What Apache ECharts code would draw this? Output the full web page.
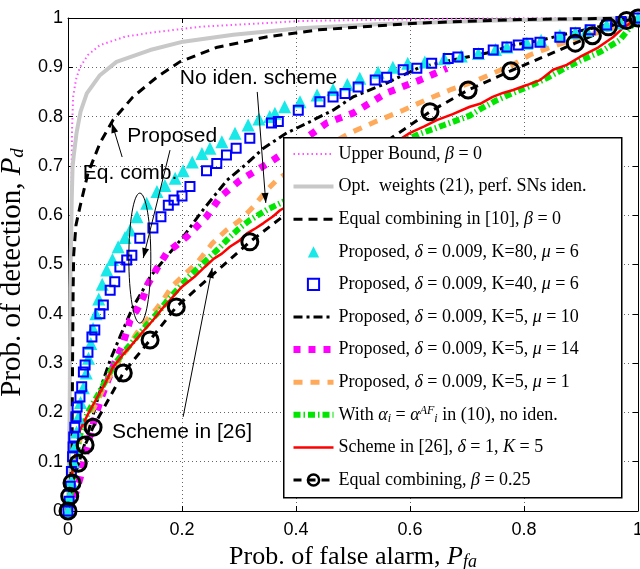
<!DOCTYPE html>
<html>
<head>
<meta charset="utf-8">
<script src="https://cdn.jsdelivr.net/npm/echarts@6/dist/echarts.min.js"></script>
<style>
  html, body { margin: 0; padding: 0; background: #fff; }
  #chart { width: 640px; height: 569px; }
</style>
</head>
<body>
<div id="chart"></div>
<script>
// ROC curves: probability of detection vs probability of false alarm, as [Pfa, Pd]
const upperBound = [[0,0],[0.004,0.4],[0.006,0.65],[0.007,0.77],[0.009,0.84],[0.014,0.875],[0.021,0.9],[0.035,0.925],[0.056,0.945],[0.1,0.962],[0.144,0.97],[0.23,0.982],[0.41,0.994],[0.7,0.999],[1,1]];
const optWeights = [[0,0],[0.003,0.2],[0.004,0.45],[0.0065,0.63],[0.008,0.698],[0.01,0.72],[0.015,0.767],[0.022,0.81],[0.033,0.847],[0.056,0.884],[0.085,0.911],[0.144,0.935],[0.202,0.952],[0.29,0.966],[0.407,0.979],[0.55,0.988],[0.75,0.995],[1,1]];
const equalComb10 = [[0,0],[0.007,0.1],[0.008,0.3],[0.009,0.45],[0.01,0.52],[0.014,0.58],[0.021,0.617],[0.035,0.685],[0.056,0.746],[0.079,0.793],[0.114,0.84],[0.156,0.88],[0.196,0.911],[0.26,0.94],[0.35,0.962],[0.44,0.976],[0.62,0.99],[0.8,0.997],[1,1]];
const propK80 = [[0,0],[0.003,0.03],[0.006,0.06],[0.009,0.1],[0.012,0.13],[0.015,0.16],[0.018,0.19],[0.022,0.22],[0.027,0.25],[0.032,0.28],[0.036,0.31],[0.04,0.34],[0.044,0.37],[0.049,0.4],[0.054,0.43],[0.06,0.46],[0.068,0.489],[0.078,0.51],[0.088,0.536],[0.1,0.555],[0.109,0.57],[0.121,0.597],[0.138,0.624],[0.156,0.648],[0.17,0.66],[0.188,0.675],[0.202,0.69],[0.218,0.708],[0.235,0.725],[0.249,0.736],[0.27,0.749],[0.293,0.766],[0.316,0.783],[0.335,0.795],[0.354,0.8],[0.363,0.807],[0.38,0.82],[0.407,0.83],[0.437,0.844],[0.465,0.855],[0.49,0.865],[0.512,0.878],[0.544,0.89],[0.57,0.9],[0.596,0.908],[0.626,0.911],[0.66,0.918],[0.69,0.923],[0.72,0.928],[0.75,0.936],[0.77,0.941],[0.805,0.949],[0.83,0.955],[0.863,0.965],[0.89,0.97],[0.91,0.975],[0.945,0.986],[0.97,0.99],[1,1]];
const propK40 = [[0,0],[0.002,0.02],[0.004,0.05],[0.006,0.08],[0.008,0.11],[0.009,0.13],[0.01,0.15],[0.012,0.17],[0.014,0.191],[0.016,0.211],[0.021,0.231],[0.024,0.252],[0.027,0.282],[0.03,0.296],[0.035,0.322],[0.042,0.353],[0.047,0.367],[0.056,0.4],[0.062,0.418],[0.074,0.448],[0.082,0.465],[0.091,0.495],[0.103,0.509],[0.112,0.519],[0.126,0.553],[0.149,0.574],[0.163,0.597],[0.176,0.62],[0.186,0.631],[0.2,0.639],[0.214,0.658],[0.243,0.69],[0.261,0.705],[0.278,0.722],[0.295,0.736],[0.319,0.756],[0.357,0.787],[0.369,0.79],[0.404,0.813],[0.442,0.83],[0.465,0.84],[0.486,0.847],[0.509,0.86],[0.539,0.874],[0.559,0.88],[0.588,0.895],[0.612,0.898],[0.638,0.908],[0.667,0.918],[0.684,0.921],[0.72,0.928],[0.746,0.935],[0.77,0.941],[0.79,0.945],[0.807,0.949],[0.828,0.951],[0.863,0.961],[0.89,0.97],[0.916,0.976],[0.945,0.986],[0.97,0.993],[1,1]];
const propMu10 = [[0,0],[0.015,0.083],[0.033,0.15],[0.05,0.219],[0.062,0.266],[0.074,0.306],[0.091,0.353],[0.114,0.414],[0.13,0.445],[0.144,0.475],[0.173,0.516],[0.202,0.556],[0.237,0.611],[0.279,0.671],[0.314,0.705],[0.343,0.736],[0.384,0.767],[0.425,0.79],[0.465,0.813],[0.5,0.84],[0.559,0.868],[0.617,0.9],[0.675,0.915],[0.735,0.929],[0.781,0.945],[0.83,0.955],[0.868,0.966],[0.93,0.982],[1,1]];
const propMu14 = [[0,0],[0.012,0.03],[0.022,0.07],[0.03,0.11],[0.04,0.16],[0.05,0.2],[0.06,0.235],[0.07,0.265],[0.079,0.292],[0.086,0.312],[0.095,0.333],[0.109,0.387],[0.121,0.408],[0.132,0.434],[0.14,0.46],[0.155,0.49],[0.173,0.523],[0.208,0.556],[0.243,0.597],[0.267,0.637],[0.302,0.671],[0.331,0.691],[0.36,0.712],[0.413,0.753],[0.454,0.787],[0.5,0.807],[0.559,0.848],[0.617,0.874],[0.665,0.898]];
const propMu1 = [[0,0],[0.01,0.08],[0.02,0.14],[0.03,0.175],[0.039,0.195],[0.05,0.219],[0.065,0.255],[0.079,0.286],[0.09,0.305],[0.103,0.327],[0.12,0.36],[0.14,0.39],[0.155,0.41],[0.167,0.428],[0.182,0.455],[0.2,0.475],[0.226,0.503],[0.254,0.544],[0.278,0.57],[0.302,0.59],[0.325,0.617],[0.349,0.651],[0.366,0.671],[0.43,0.725],[0.495,0.767],[0.54,0.79],[0.588,0.813],[0.63,0.835],[0.67,0.854],[0.71,0.87],[0.746,0.888],[0.78,0.905],[0.81,0.925],[0.84,0.938],[0.868,0.949],[0.9,0.96],[0.945,0.976],[1,1]];
const alphaAF = [[0,0],[0.01,0.08],[0.02,0.15],[0.035,0.2],[0.05,0.23],[0.065,0.262],[0.08,0.295],[0.1,0.325],[0.12,0.352],[0.14,0.38],[0.16,0.405],[0.175,0.428],[0.191,0.448],[0.215,0.478],[0.243,0.509],[0.265,0.533],[0.284,0.556],[0.3,0.573],[0.319,0.59],[0.349,0.611],[0.372,0.624],[0.45,0.67],[0.54,0.725],[0.617,0.765],[0.66,0.783],[0.705,0.802],[0.723,0.815],[0.75,0.832],[0.781,0.848],[0.81,0.862],[0.84,0.878],[0.87,0.897],[0.898,0.913],[0.935,0.932],[0.968,0.955],[1,1]];
const scheme26 = [[0,0],[0.004,0.05],[0.01,0.1],[0.015,0.124],[0.021,0.164],[0.03,0.185],[0.039,0.205],[0.05,0.228],[0.062,0.252],[0.07,0.27],[0.079,0.292],[0.095,0.315],[0.114,0.34],[0.13,0.362],[0.149,0.387],[0.165,0.41],[0.179,0.428],[0.2,0.455],[0.222,0.475],[0.24,0.495],[0.256,0.512],[0.27,0.522],[0.284,0.536],[0.3,0.548],[0.314,0.563],[0.33,0.574],[0.343,0.584],[0.36,0.598],[0.372,0.61],[0.45,0.66],[0.53,0.715],[0.6,0.767],[0.625,0.78],[0.647,0.793],[0.675,0.805],[0.705,0.82],[0.723,0.826],[0.745,0.84],[0.763,0.848],[0.781,0.854],[0.805,0.864],[0.828,0.874],[0.851,0.895],[0.875,0.905],[0.898,0.921],[0.93,0.94],[0.956,0.961],[0.974,0.98],[1,1]];
const equalCombBeta = [[0,0.0],[0.003,0.03],[0.007,0.057],[0.018,0.097],[0.03,0.134],[0.044,0.17],[0.097,0.28],[0.144,0.347],[0.19,0.414],[0.319,0.546],[0.47,0.68],[0.635,0.81],[0.702,0.854],[0.777,0.893],[0.89,0.949],[0.92,0.964],[0.948,0.982],[0.98,0.995],[1,1]];

const xTicks = [0, 0.2, 0.4, 0.6, 0.8, 1];
const yTicks = [0, 0.1, 0.2, 0.3, 0.4, 0.5, 0.6, 0.7, 0.8, 0.9, 1];

const SERIF = 'Liberation Serif';
const SANS = 'Liberation Sans';

// legend entries (rich text)
const legendText = {
  ub: 'Upper Bound, {i|β} = 0',
  opt: 'Opt.  weights (21), perf. SNs iden.',
  eq10: 'Equal combining in [10], {i|β} = 0',
  k80: 'Proposed, {i|δ} = 0.009, K=80, {i|μ} = 6',
  k40: 'Proposed, {i|δ} = 0.009, K=40, {i|μ} = 6',
  mu10: 'Proposed, {i|δ} = 0.009, K=5, {i|μ} = 10',
  mu14: 'Proposed, {i|δ} = 0.009, K=5, {i|μ} = 14',
  mu1: 'Proposed, {i|δ} = 0.009, K=5, {i|μ} = 1',
  af: 'With {i|α}{sub|i} = {i|α}{sup|AF}{sub|i} in (10), no iden.',
  s26: 'Scheme in [26], {i|δ} = 1, {i|K} = 5',
  eqb: 'Equal combining, {i|β} = 0.25'
};

function lineSeries(id, data, color, width, dash, extra) {
  return Object.assign({
    id: id, name: id, type: 'line', data: data,
    symbol: 'none', smooth: false,
    lineStyle: { color: color, width: width, type: dash },
    itemStyle: { color: color },
    z: 2
  }, extra || {});
}

// marker-only curves: line series with a hidden connecting line
function markerSeries(id, data, symbol, size, itemStyle) {
  return {
    id: id, name: id, type: 'line', data: data,
    symbol: symbol, symbolSize: size, showSymbol: true,
    lineStyle: { opacity: 0 },
    itemStyle: itemStyle,
    z: 2
  };
}

const series = [
  lineSeries('ub', upperBound, '#ff55ff', 2, [1.5, 3]),
  lineSeries('opt', optWeights, '#c8c8c8', 4, 'solid'),
  lineSeries('eq10', equalComb10, '#000', 3, [9, 6]),
  markerSeries('k80', propK80, 'triangle', 13, { color: '#19e8e8' }),
  markerSeries('k40', propK40, 'rect', 9, { color: 'rgba(0,0,0,0)', borderColor: '#0000ff', borderWidth: 2 }),
  lineSeries('mu10', propMu10, '#000', 3, [9, 4, 3, 4]),
  lineSeries('mu14', propMu14, '#ff00ff', 7, [7, 8]),
  lineSeries('mu1', propMu1, '#ffaa5a', 5, [9, 8]),
  lineSeries('af', alphaAF, '#00e600', 6, [7, 3, 1.5, 3]),
  lineSeries('s26', scheme26, '#ff0000', 2.5, 'solid'),
  lineSeries('eqb', equalCombBeta, '#000', 3, [8, 6], {
    symbol: 'circle', symbolSize: 16, showSymbol: true,
    itemStyle: { color: 'rgba(0,0,0,0)', borderColor: '#000', borderWidth: 3 }
  })
];

// legend rows: plain lines hide the marker, marker-only rows hide the line,
// and every row keeps the curve's own stroke width
const legendData = series.map(s => {
  const item = { name: s.name };
  if (s.lineStyle.opacity === 0) {
    item.lineStyle = { opacity: 0, width: 0 };
  } else {
    item.lineStyle = { width: s.lineStyle.width, type: s.lineStyle.type };
  }
  if (s.symbol === 'none') item.itemStyle = { opacity: 0 };
  if (s.name === 'eqb') item.itemStyle = { borderWidth: 2.5 };
  return item;
});

const tickFmt = v => (v === 0 ? '0' : v === 1 ? '1' : String(+v.toFixed(1)));

const option = {
  animation: false,
  backgroundColor: '#fff',
  grid: { left: 68, right: 2, top: 18, bottom: 58, show: false, containLabel: false, outerBoundsMode: 'none' },
  xAxis: [{
    type: 'value', min: 0, max: 1, interval: 0.2, position: 'bottom',
    name: '{r|Prob. of false alarm, }{i|P}{s|fa}', nameLocation: 'middle', nameGap: 32,
    nameTextStyle: { fontFamily: SERIF, fontSize: 26, color: '#000',
      rich: { r: { fontFamily: SERIF, fontSize: 26, lineHeight: 28 },
              i: { fontFamily: SERIF, fontSize: 26, fontStyle: 'italic', lineHeight: 28 },
              s: { fontFamily: SERIF, fontSize: 18, fontStyle: 'italic', lineHeight: 14, verticalAlign: 'bottom' } } },
    axisLine: { show: true, lineStyle: { color: '#000', width: 1 } },
    axisTick: { show: true, inside: true, length: 5, lineStyle: { color: '#000' } },
    axisLabel: { fontFamily: SANS, fontSize: 18, color: '#000', margin: 10, formatter: tickFmt },
    splitLine: { show: true, lineStyle: { color: '#666', type: [1, 3], width: 1 } }
  }, {
    type: 'value', min: 0, max: 1, interval: 0.2, position: 'top',
    axisLine: { show: true, onZero: false, lineStyle: { color: '#000', width: 1 } },
    axisTick: { show: true, inside: true, length: 5, lineStyle: { color: '#000' } },
    axisLabel: { show: false }, splitLine: { show: false }
  }],
  yAxis: [{
    type: 'value', min: 0, max: 1, interval: 0.1, position: 'left',
    name: '{r|Prob. of detection, }{i|P}{s|d}', nameLocation: 'middle', nameGap: 37,
    nameTextStyle: { fontFamily: SERIF, fontSize: 29, color: '#000', padding: [0, 16, 0, 0],
      rich: { r: { fontFamily: SERIF, fontSize: 29, lineHeight: 30 },
              i: { fontFamily: SERIF, fontSize: 29, fontStyle: 'italic', lineHeight: 30 },
              s: { fontFamily: SERIF, fontSize: 19, fontStyle: 'italic', lineHeight: 14, verticalAlign: 'bottom' } } },
    axisLine: { show: true, onZero: false, lineStyle: { color: '#000', width: 1 } },
    axisTick: { show: true, inside: true, length: 5, lineStyle: { color: '#000' } },
    axisLabel: { fontFamily: SANS, fontSize: 18, color: '#000', margin: 5, formatter: tickFmt },
    splitLine: { show: true, lineStyle: { color: '#666', type: [1, 3], width: 1 } }
  }, {
    type: 'value', min: 0, max: 1, interval: 0.1, position: 'right',
    axisLine: { show: true, onZero: false, lineStyle: { color: '#000', width: 1 } },
    axisTick: { show: true, inside: true, length: 5, lineStyle: { color: '#000' } },
    axisLabel: { show: false }, splitLine: { show: false }
  }],
  legend: {
    orient: 'vertical', left: 283, top: 137, padding: [7, 0, 0, 7],
    itemWidth: 40, itemHeight: 14, itemGap: 12.6,
    selectedMode: false, z: 5,
    data: legendData,
    formatter: name => legendText[name],
    textStyle: {
      fontFamily: SERIF, fontSize: 18, color: '#000', lineHeight: 20,
      rich: {
        i: { fontFamily: SERIF, fontSize: 18, fontStyle: 'italic', lineHeight: 20 },
        sub: { fontFamily: SERIF, fontSize: 12, fontStyle: 'italic', lineHeight: 10, verticalAlign: 'bottom' },
        sup: { fontFamily: SERIF, fontSize: 12, fontStyle: 'italic', lineHeight: 10, verticalAlign: 'top' }
      }
    }
  },
  graphic: [{
    id: 'legendFrame', type: 'rect', z: 3, left: 283, top: 137,
    shape: { width: 338, height: 360 },
    style: { fill: '#fff', stroke: '#000', lineWidth: 1.5 }
  }],
  series: series
};

const chart = echarts.init(document.getElementById('chart'), null, { renderer: 'canvas' });
chart.setOption(option);

// annotations, anchored in data coordinates
const toPx = p => chart.convertToPixel({ xAxisIndex: 0, yAxisIndex: 0 }, p);

function arrow(from, to) {
  const a = toPx(from), b = toPx(to);
  const ang = Math.atan2(b[1] - a[1], b[0] - a[0]);
  const L = 10, W = 3.5, c = Math.cos(ang), s = Math.sin(ang);
  const head = [[b[0], b[1]],
    [b[0] - L * c + W * s, b[1] - L * s - W * c],
    [b[0] - L * c - W * s, b[1] - L * s + W * c]];
  return [
    { type: 'line', z: 6, shape: { x1: a[0], y1: a[1], x2: b[0], y2: b[1] }, style: { stroke: '#000', lineWidth: 1 } },
    { type: 'polygon', z: 6, shape: { points: head }, style: { fill: '#000' } }
  ];
}

function label(text, at) {
  const p = toPx(at);
  return { type: 'text', z: 6, x: p[0], y: p[1],
    style: { text: text, font: '21px "Liberation Sans"', fill: '#000', verticalAlign: 'middle', align: 'left' } };
}

const ellC = toPx([0.126, 0.513]);
const notes = [
  label('No iden. scheme', [0.196, 0.878]),
  label('Proposed', [0.104, 0.761]),
  label('Eq. comb.', [0.026, 0.686]),
  label('Scheme in [26]', [0.077, 0.16]),
  ...arrow([0.332, 0.85], [0.347, 0.625]),
  ...arrow([0.179, 0.732], [0.132, 0.513]),
  ...arrow([0.095, 0.718], [0.077, 0.787]),
  ...arrow([0.202, 0.191], [0.253, 0.493]),
  { type: 'ellipse', z: 6, shape: { cx: ellC[0], cy: ellC[1], rx: 11, ry: 65 },
    style: { fill: 'none', stroke: '#000', lineWidth: 1 } }
];

chart.setOption({ graphic: option.graphic.concat(notes) });
</script>
</body>
</html>
